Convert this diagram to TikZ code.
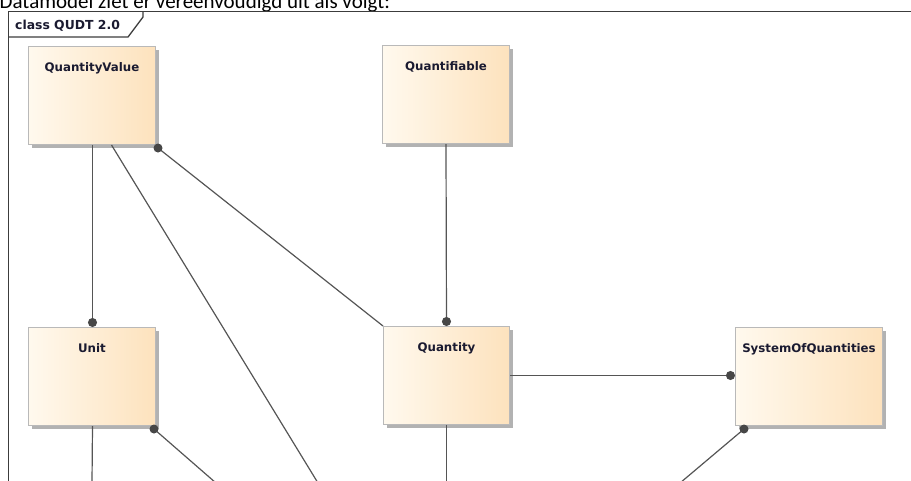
\documentclass[tikz,border=0pt]{standalone}
\usepackage{fontspec}
\setmainfont{DejaVu Sans}
\newfontfamily\bodyfont{Carlito}
\usetikzlibrary{shadows,arrows.meta}

\definecolor{frameline}{HTML}{3C3C3C}
\definecolor{wirecol}{HTML}{555555}
\definecolor{dotcol}{HTML}{474747}
\definecolor{boxedge}{HTML}{B9B9B9}
\definecolor{boxleft}{HTML}{FFF9EE}
\definecolor{boxright}{HTML}{FDE2BD}
\definecolor{boxshadow}{HTML}{B2B2B2}
\definecolor{classtext}{HTML}{1A1A30}

\begin{document}
\begin{tikzpicture}[x=1pt,y=-1pt,
  classbox/.style={draw=boxedge, line width=1pt,
    left color=boxleft, right color=boxright,
    inner sep=0pt, minimum width=#1,
    text height=25pt, text depth=73pt,
    font=\bfseries\fontsize{11.8}{13}\selectfont, text=classtext,
    general shadow={fill=boxshadow, shadow xshift=3pt, shadow yshift=-3pt},
    anchor=north west},
  classbox/.default=127pt,
  wire/.style={draw=wirecol, line width=1.2pt},
  dotted end/.style={wire, -{Circle[length=9pt,width=9pt,fill=dotcol,color=dotcol]}},
  enddot/.style={fill=dotcol},
]
\useasboundingbox (0,0) rectangle (911,480);

% introductory sentence above the diagram frame
\node[anchor=base west, inner sep=0pt, font=\bodyfont\fontsize{21}{24}\selectfont, text=black]
  (intro) at (-0.5,8.5) {Datamodel ziet er vereenvoudigd uit als volgt:};

% diagram frame with its name tab
\draw[frameline, line width=1.3pt] (8.5,484) -- (8.5,11.5) -- (915,11.5);
\draw[frameline, line width=1.3pt] (8.5,37) -- (128,37) -- (143,17) -- (143,11.5);
\node[anchor=base west, inner sep=0pt, font=\bfseries\fontsize{12.4}{14}\selectfont, text=classtext]
  (tab) at (15,29) {class QUDT 2.0};

% classes
\node[classbox] (qv)   at (28,46)   {QuantityValue};
\node[classbox] (qf)   at (382,45)  {Quantifiable};
\node[classbox] (unit) at (28,327)  {Unit};
\node[classbox=126pt] (qty)  at (383,326) {Quantity};
\node[classbox=147pt] (soq)  at (735,327) {SystemOfQuantities};

% association ends that sit on box corners
\coordinate (qvcorner)   at ([shift={(2pt,-3pt)}]qv.south east);
\coordinate (unitcorner) at ([shift={(-2pt,-3pt)}]unit.south east);
\coordinate (soqcorner)  at ([shift={(9pt,-3pt)}]soq.south west);

% links leaving the visible area at the bottom
\coordinate (qvout)   at (318,483);
\coordinate (unitout) at (216,483);
\coordinate (unitdown) at (92,483);
\coordinate (qtydown) at (446.5,483);
\coordinate (soqout)  at (680,483);

% connectors
\draw[dotted end] ([xshift=0.5pt]qv.south) -- ([xshift=0.5pt]unit.north);
\draw[dotted end] (qf.south) -- (qty.north);
\draw[dotted end] (qty.east) -- (qty.east -| soq.west);
\draw[wire] ([xshift=19.5pt]qv.south) -- (qvout);
\draw[wire] (qvcorner) -- (qty.north west);
\draw[wire] ([xshift=0.5pt]unit.south) -- (unitdown);
\draw[wire] (unitcorner) -- (unitout);
\draw[wire] (qty.south) -- (qtydown);
\draw[wire] (soqcorner) -- (soqout);

\fill[enddot] (qvcorner) circle (4.5pt);
\fill[enddot] (unitcorner) circle (4.5pt);
\fill[enddot] (soqcorner) circle (4.5pt);
\end{tikzpicture}
\end{document}
